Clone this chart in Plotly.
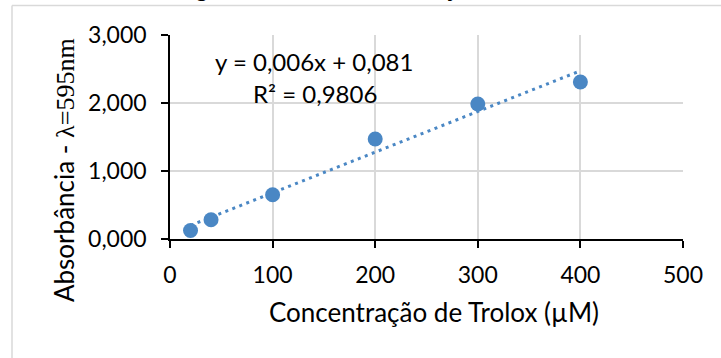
import numpy as np
import plotly.graph_objects as go

# Data
conc = [20, 40, 100, 200, 300, 400]
absorb = [0.126, 0.284, 0.651, 1.47, 1.985, 2.309]
x_ticks = [0, 100, 200, 300, 400, 500]
y_ticks = [0, 1, 2, 3]
y_tick_labels = ["0,000", "1,000", "2,000", "3,000"]
eq_text = "y = 0,006x + 0,081"
r2_text = "R² = 0,9806"
title_text = "Figura 1 - Curva de calibração"
x_title = "Concentração de Trolox (µM)"

slope, intercept = np.polyfit(conc, absorb, 1)
trend_x = [min(conc), max(conc)]
trend_y = [slope * v + intercept for v in trend_x]

W, H = 721, 358
L, R, T, B = 170, 38, 35, 119
pw, ph = W - L - R, H - T - B

def px(xp):
    return (xp - L) / pw

def py(yp):
    return (H - B - yp) / ph

BLUE = "#4a87c4"
FONT = "Lato"
FS = 23

fig = go.Figure()
fig.add_trace(go.Scatter(x=trend_x, y=trend_y, mode="lines",
                         line=dict(color=BLUE, width=3, dash="3px,4.5px"),
                         hoverinfo="skip", showlegend=False))
fig.add_trace(go.Scatter(x=conc, y=absorb, mode="markers",
                         marker=dict(color=BLUE, size=15),
                         showlegend=False))

fig.update_layout(
    width=W, height=H,
    margin=dict(l=L, r=R, t=T, b=B),
    paper_bgcolor="white", plot_bgcolor="white",
    font=dict(family=FONT, size=FS, color="#000000"),
    showlegend=False,
)
fig.update_xaxes(range=[0, 500], tickvals=x_ticks, ticktext=[str(v) for v in x_ticks],
                 showgrid=True, gridcolor="#d9d9d9", gridwidth=1.5,
                 showline=True, linecolor="black", linewidth=1.5,
                 ticks="outside", ticklen=7, tickcolor="black", tickwidth=1.5,
                 ticklabelstandoff=8,
                 zeroline=False, tickfont=dict(family=FONT, size=FS))
fig.update_yaxes(range=[0, 3], tickvals=y_ticks, ticktext=y_tick_labels,
                 showgrid=True, gridcolor="#d9d9d9", gridwidth=1.5,
                 showline=True, linecolor="black", linewidth=1.5,
                 ticks="outside", ticklen=7, tickcolor="black", tickwidth=1.5,
                 ticklabelstandoff=10,
                 zeroline=False, tickfont=dict(family=FONT, size=FS))

ann = [
    dict(text=eq_text, x=px(314), y=py(61), xref="paper", yref="paper",
         showarrow=False, xanchor="center", yanchor="middle", font=dict(size=24)),
    dict(text=r2_text, x=px(315), y=py(93), xref="paper", yref="paper",
         showarrow=False, xanchor="center", yanchor="middle", font=dict(size=24)),
    dict(text=x_title, x=px(434), y=py(312), xref="paper", yref="paper",
         showarrow=False, xanchor="center", yanchor="middle", font=dict(size=26)),
    dict(text='Absorbância - <span style="font-family:Liberation Serif">λ=595nm</span>',
         x=px(64), y=py(170), xref="paper", yref="paper", textangle=-90,
         showarrow=False, xanchor="center", yanchor="middle", font=dict(size=26)),
    dict(text="<b>" + title_text + "</b>", x=px(328), y=py(-12), xref="paper", yref="paper",
         showarrow=False, xanchor="center", yanchor="middle", font=dict(size=FS)),
]
fig.update_layout(annotations=ann)

fig.update_layout(shapes=[
    dict(type="line", xref="paper", yref="paper", x0=px(12), x1=px(721), y0=py(5.5), y1=py(5.5),
         line=dict(color="#d9d9d9", width=1.5)),
    dict(type="line", xref="paper", yref="paper", x0=px(12), x1=px(12), y0=py(5.5), y1=py(358),
         line=dict(color="#d9d9d9", width=1.5)),
])

fig.write_html("out.html", config={"displayModeBar": False},
               post_script="document.body.style.margin='0';document.body.style.overflow='hidden';")
